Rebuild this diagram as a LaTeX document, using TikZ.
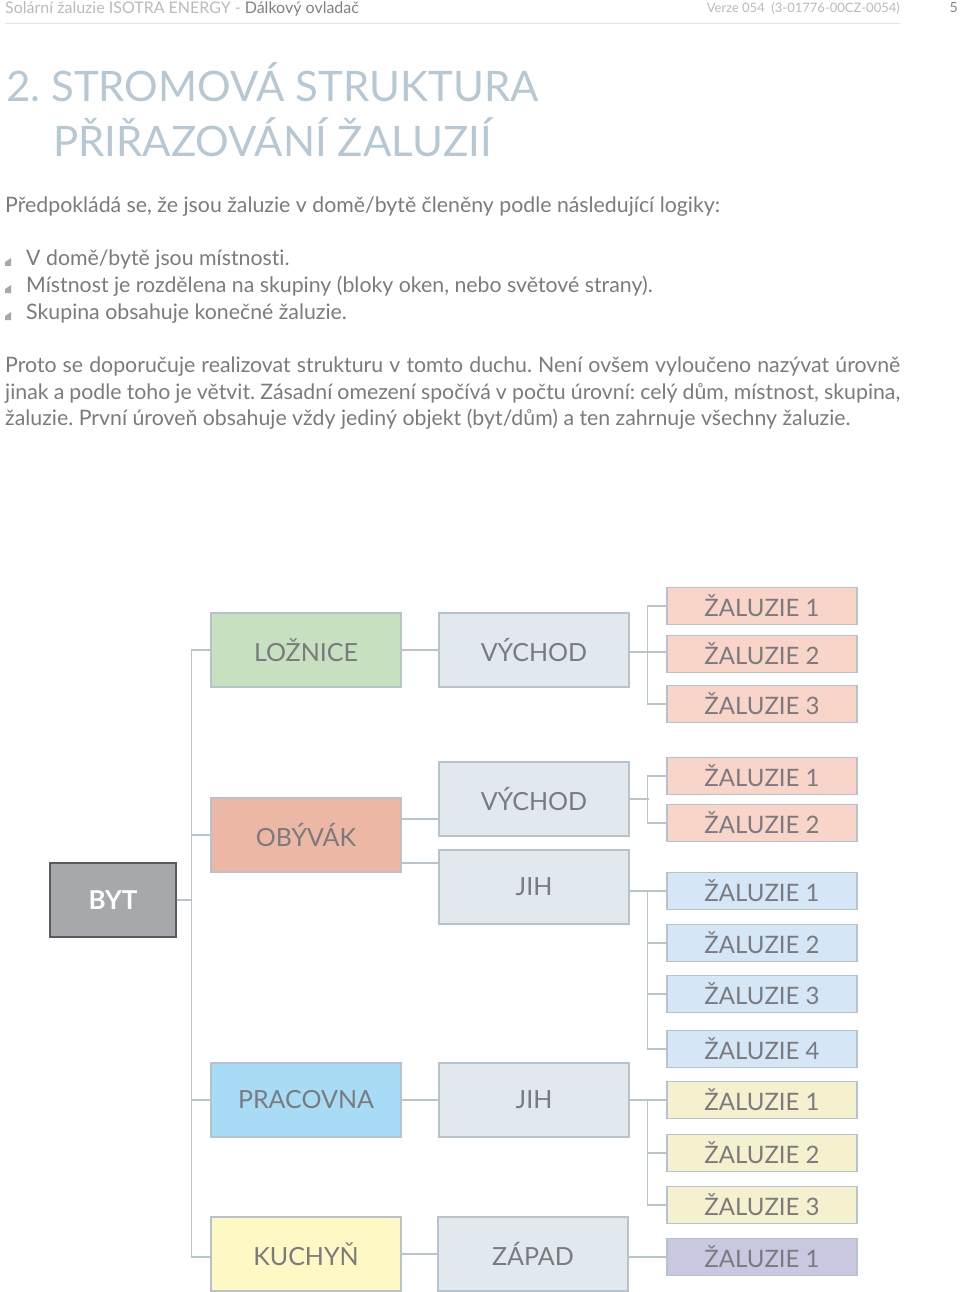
\documentclass[tikz,border=0pt]{standalone}
\usepackage{fontspec}
\setmainfont{Lato}[Ligatures={NoCommon}]
\frenchspacing
\definecolor{hdrgray}{HTML}{B8BABD}
\definecolor{hdrdark}{HTML}{7F8184}
\definecolor{rulegray}{HTML}{E4E5E6}
\definecolor{titleblue}{HTML}{B5C8D3}
\definecolor{txtgray}{HTML}{7A7B7E}
\definecolor{boxline}{HTML}{B7C3CC}
\definecolor{linkgray}{HTML}{B9C5CD}
\definecolor{grpfill}{HTML}{E1E8EE}
\definecolor{bytfill}{HTML}{A6A8AB}
\definecolor{bytline}{HTML}{5A5B5D}
\definecolor{loznfill}{HTML}{C6E0C0}
\definecolor{obyvfill}{HTML}{ECB7A4}
\definecolor{pracfill}{HTML}{A8DCF6}
\definecolor{kuchfill}{HTML}{FEF8C4}
\definecolor{pinkfill}{HTML}{F9D4C9}
\definecolor{bluefill}{HTML}{D5E6F6}
\definecolor{yellfill}{HTML}{F5F1CE}
\definecolor{violfill}{HTML}{C8C9E1}
\begin{document}
\begin{tikzpicture}[x=1pt,y=-1pt,
    box/.style={draw=boxline,line width=1.2pt,minimum width=190pt,minimum height=74pt,
      inner sep=0pt,text=txtgray,font=\fontsize{25}{25}\selectfont},
    blind/.style={box,minimum height=37pt,font=\fontsize{24}{24}\selectfont},
    link/.style={draw=linkgray,line width=1.4pt},
    body/.style={anchor=base west,inner sep=0pt,text=txtgray,font=\fontsize{21.3}{21.3}\selectfont}]
    \useasboundingbox (0,0) rectangle (960,1292);
    % header
    \node [anchor=base west,inner sep=0pt,font=\fontsize{16}{16}\selectfont] (hdr) at (5,14)
        {\textcolor{hdrgray}{Solární žaluzie ISOTRA ENERGY -} \textcolor{hdrdark}{Dálkový ovladač}};
    \node [anchor=base east,inner sep=0pt,text=hdrgray,font=\fontsize{13}{13}\selectfont] (ver) at (900,13)
        {Verze 054\ \ (3-01776-00CZ-0054)};
    \node [anchor=base east,inner sep=0pt,text=hdrdark,font=\fontsize{14}{14}\selectfont] (pg) at (958,13) {5};
    \draw [rulegray,line width=1pt] (5,24) -- (900,24);
    % title
    \node [anchor=base west,inner sep=0pt,text=titleblue,font=\fontsize{42}{42}\selectfont] (tit1) at (6,102)
        {2. STROMOVÁ STRUKTURA};
    \node [anchor=base west,inner sep=0pt,text=titleblue,font=\fontsize{42}{42}\selectfont] (tit2) at (53,157)
        {PŘIŘAZOVÁNÍ ŽALUZIÍ};
    % text
    \node [body] (intro) at (5,212) {Předpokládá se, že jsou žaluzie v domě/bytě členěny podle následující logiky:};
    \foreach \y/\t/\n in {265/{V domě/bytě jsou místnosti.}/b1,
                          292/{Místnost je rozdělena na skupiny (bloky oken, nebo světové strany).}/b2,
                          319/{Skupina obsahuje konečné žaluzie.}/b3} {
        \fill [bytfill] (5,\y+1) -- (11,\y+1) -- (11,\y-7) -- (5,\y-3) -- cycle;
        \node [body] (\n) at (26,\y) {\t};
    }
    \node [body] (par1) at (5,372) {\makebox[895pt][s]{Proto se doporučuje realizovat strukturu v tomto duchu. Není ovšem vyloučeno nazývat úrovně}};
    \node [body] (par2) at (5,399) {\makebox[895pt][s]{jinak a podle toho je větvit. Zásadní omezení spočívá v počtu úrovní: celý dům, místnost, skupina,}};
    \node [body] (par3) at (5,425) {žaluzie. První úroveň obsahuje vždy jediný objekt (byt/dům) a ten zahrnuje všechny žaluzie.};
    % tree
    \node [box,minimum width=126pt,fill=bytfill,draw=bytline,text=white,font=\fontsize{26}{26}\selectfont\bfseries] (byt) at (113,900) {BYT};
    \node [box,fill=loznfill] (loznice) at (306,650) {LOŽNICE};
    \node [box,fill=obyvfill] (obyvak) at (306,835) {OBÝVÁK};
    \node [box,fill=pracfill] (pracovna) at (306,1100) {PRACOVNA};
    \node [box,fill=kuchfill] (kuchyn) at (306,1254) {KUCHYŇ};
    \node [box,fill=grpfill] (vychodA) at (534,650) {VÝCHOD};
    \node [box,fill=grpfill] (vychodB) at (534,799) {VÝCHOD};
    \node [box,fill=grpfill] (jihA) at (534,887) {JIH};
    \node [box,fill=grpfill] (jihB) at (534,1100) {JIH};
    \node [box,fill=grpfill] (zapad) at (533,1254) {ZÁPAD};
    \node [blind,fill=pinkfill] (zA1) at (762,606) {ŽALUZIE 1};
    \node [blind,fill=pinkfill] (zA2) at (762,654) {ŽALUZIE 2};
    \node [blind,fill=pinkfill] (zA3) at (762,704) {ŽALUZIE 3};
    \node [blind,fill=pinkfill] (zB1) at (762,776) {ŽALUZIE 1};
    \node [blind,fill=pinkfill] (zB2) at (762,823) {ŽALUZIE 2};
    \node [blind,fill=bluefill] (zC1) at (762,891) {ŽALUZIE 1};
    \node [blind,fill=bluefill] (zC2) at (762,943) {ŽALUZIE 2};
    \node [blind,fill=bluefill] (zC3) at (762,994) {ŽALUZIE 3};
    \node [blind,fill=bluefill] (zC4) at (762,1049) {ŽALUZIE 4};
    \node [blind,fill=yellfill] (zD1) at (762,1100) {ŽALUZIE 1};
    \node [blind,fill=yellfill] (zD2) at (762,1153) {ŽALUZIE 2};
    \node [blind,fill=yellfill] (zD3) at (762,1205) {ŽALUZIE 3};
    \node [blind,fill=violfill] (zE1) at (762,1257) {ŽALUZIE 1};
    % connectors
    \draw [link] (loznice.west) -- ++(-19,0) coordinate (trunk) |- ([yshift=-3pt]kuchyn.west);
    \draw [link] (byt.east) -- (byt.east -| trunk);
    \draw [link] (obyvak.west) -- (obyvak.west -| trunk);
    \draw [link] (pracovna.west) -- (pracovna.west -| trunk);
    \draw [link] (loznice.east) -- (vychodA.west);
    \draw [link] ([yshift=16pt]obyvak.east) -- ([yshift=16pt]obyvak.east -| vychodB.west);
    \draw [link] ([yshift=-28pt]obyvak.east) -- ([yshift=-28pt]obyvak.east -| jihA.west);
    \draw [link] (pracovna.east) -- (jihB.west);
    \draw [link] (kuchyn.east) -- (zapad.west);
    \draw [link] ([yshift=-2pt]vychodA.east) -- ([yshift=-2pt]vychodA.east -| zA2.west);
    \draw [link] (zA1.west) -- ++(-19,0) |- (zA3.west);
    \draw [link] (vychodB.east) -- ++(19,0);
    \draw [link] (zB1.west) -- ++(-19,0) |- (zB2.west);
    \draw [link] (zC1.west -| jihA.east) -- (zC1.west);
    \draw [link] (zC1.west) -- ++(-19,0) |- (zC4.west);
    \draw [link] (zC2.west) -- ++(-19,0);
    \draw [link] (zC3.west) -- ++(-19,0);
    \draw [link] (jihB.east) -- (zD1.west);
    \draw [link] (zD1.west) -- ++(-19,0) |- (zD3.west);
    \draw [link] (zD2.west) -- ++(-19,0);
    \draw [link] (zE1.west -| zapad.east) -- (zE1.west);
\end{tikzpicture}
\end{document}
